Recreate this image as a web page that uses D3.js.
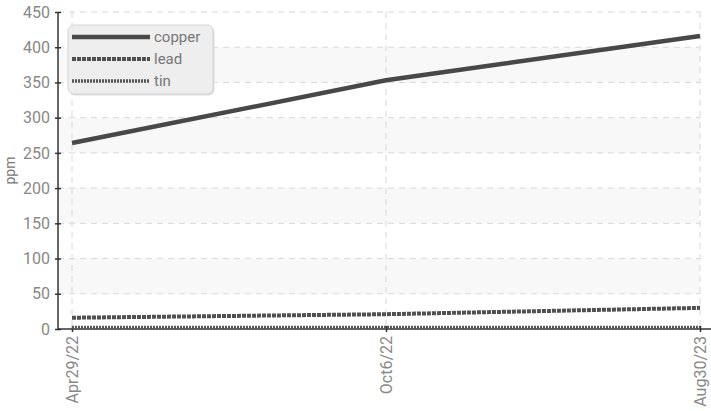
<!DOCTYPE html>
<html>
<head>
<meta charset="utf-8">
<script src="https://cdn.jsdelivr.net/npm/d3@7"></script>
<style>
  body { margin: 0; background: #fff; }
  text { font-family: "Liberation Sans Narrow", "Roboto", sans-serif; }
</style>
</head>
<body>
<div id="chart"></div>
<script>
// sample dates and measured values (ppm)
const dates = ["Apr29/22", "Oct6/22", "Aug30/23"];
const copper = [264, 353, 416];
const lead = [16, 21, 30];
const tin = [2, 2, 2];
const yTicks = [0, 50, 100, 150, 200, 250, 300, 350, 400, 450];

const seriesList = [
  { name: "copper", values: copper, width: 4.5, dash: null, color: "#484848" },
  { name: "lead", values: lead, width: 4, dash: "4,1", color: "#505050" },
  { name: "tin", values: tin, width: 3.5, dash: "2,1", color: "#555" }
];

const width = 711, height = 411;
const mLeft = 58, mTop = 12, plotRight = 700, mBottom = 329;

const svg = d3.select("#chart")
  .append("svg")
  .attr("width", width)
  .attr("height", height);

const x = d3.scalePoint().domain(dates).range([72, plotRight]);
const y = d3.scaleLinear().domain([0, 450]).range([mBottom, mTop]);

// alternating bands
const bands = [[50, 100], [150, 200], [250, 300], [350, 400]];
svg.selectAll(".band")
  .data(bands)
  .enter().append("rect")
  .attr("x", mLeft)
  .attr("width", plotRight - mLeft)
  .attr("y", d => y(d[1]))
  .attr("height", d => y(d[0]) - y(d[1]))
  .attr("fill", "#f8f8f8");

// grid lines
svg.selectAll(".hgrid")
  .data(yTicks.slice(1))
  .enter().append("line")
  .attr("x1", mLeft).attr("x2", plotRight)
  .attr("y1", d => y(d)).attr("y2", d => y(d))
  .attr("stroke", "#d8d8d8")
  .attr("stroke-dasharray", "6,5");

svg.selectAll(".vgrid")
  .data(dates)
  .enter().append("line")
  .attr("x1", d => x(d)).attr("x2", d => x(d))
  .attr("y1", mTop).attr("y2", mBottom)
  .attr("stroke", "#d8d8d8")
  .attr("stroke-dasharray", "6,5");

// y axis
const yAxis = svg.append("g")
  .attr("transform", "translate(" + mLeft + ",0)")
  .call(d3.axisLeft(y).tickValues(yTicks).tickSize(3).tickPadding(5));
yAxis.select(".domain").attr("stroke", "#333").attr("stroke-width", 1.5).attr("d", "M0," + mTop + "V" + mBottom);
yAxis.selectAll(".tick line").attr("stroke", "#333").attr("stroke-width", 1.5).attr("x1", 3).attr("x2", -3);
yAxis.selectAll(".tick text").attr("fill", "#888").style("font-size", "16px");

// x axis
const xAxis = svg.append("g")
  .attr("transform", "translate(0," + mBottom + ")")
  .call(d3.axisBottom(x).tickSize(3));
xAxis.select(".domain").attr("stroke", "#333").attr("stroke-width", 1.5).attr("d", "M" + mLeft + ",0H" + width);
xAxis.selectAll(".tick line").attr("stroke", "#333").attr("stroke-width", 1.5).attr("y1", -3).attr("y2", 3);
xAxis.selectAll(".tick text")
  .attr("fill", "#888")
  .style("font-size", "16px")
  .attr("text-anchor", "end")
  .attr("transform", "rotate(-90)")
  .attr("x", -7)
  .attr("y", 0)
  .attr("dy", "0.35em");

// y label
svg.append("text")
  .attr("transform", "translate(15," + y(225) + ") rotate(-90)")
  .attr("text-anchor", "middle")
  .attr("fill", "#777")
  .style("font-size", "14px")
  .text("ppm");

// lines
const line = d3.line()
  .x((d, i) => x(dates[i]))
  .y(d => y(d));

svg.selectAll(".series")
  .data(seriesList.slice().reverse())
  .enter().append("path")
  .attr("d", d => line(d.values))
  .attr("fill", "none")
  .attr("stroke", d => d.color)
  .attr("stroke-width", d => d.width)
  .attr("stroke-dasharray", d => d.dash);

// legend
const legend = svg.append("g").attr("transform", "translate(68,25)");
legend.append("rect")
  .attr("x", 1.5).attr("y", 1.5)
  .attr("width", 145).attr("height", 69)
  .attr("rx", 6)
  .attr("fill", "#ddd");
legend.append("rect")
  .attr("width", 145).attr("height", 69)
  .attr("rx", 6)
  .attr("fill", "#eeeeee")
  .attr("stroke", "#d4d4d4");

const item = legend.selectAll(".item")
  .data(seriesList)
  .enter().append("g")
  .attr("transform", (d, i) => "translate(0," + (12 + i * 22) + ")");

item.append("line")
  .attr("x1", 4).attr("x2", 82)
  .attr("stroke", d => d.color)
  .attr("stroke-width", d => d.width)
  .attr("stroke-dasharray", d => d.dash);

item.append("text")
  .attr("x", 86)
  .attr("dy", "0.35em")
  .attr("fill", "#777")
  .style("font-size", "15px")
  .text(d => d.name);
</script>
</body>
</html>
